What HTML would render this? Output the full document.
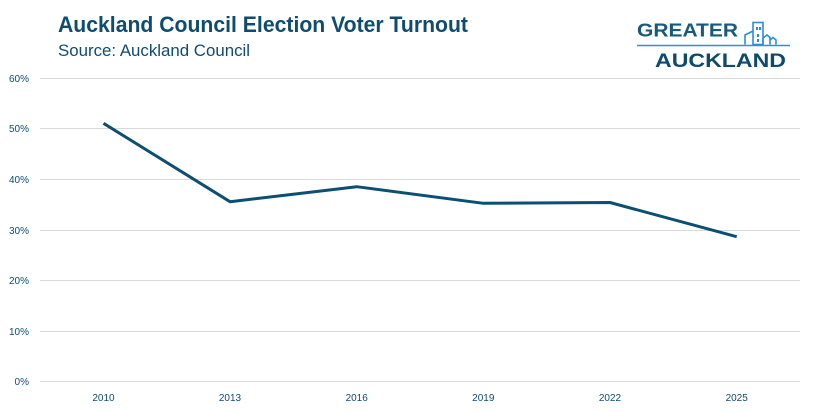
<!DOCTYPE html>
<html>
<head>
<meta charset="utf-8">
<style>
html,body{margin:0;padding:0;background:#fff;}
svg{display:block;}
text{font-family:"Liberation Sans",sans-serif;}
</style>
</head>
<body>
<svg width="815" height="413" viewBox="0 0 815 413" xmlns="http://www.w3.org/2000/svg">
<rect width="815" height="413" fill="#fff"/>
<!-- Title -->
<text x="58" y="32" font-size="22" font-weight="bold" fill="#0e4d70" textLength="410" lengthAdjust="spacingAndGlyphs">Auckland Council Election Voter Turnout</text>
<text x="58" y="56" font-size="17" fill="#0e4d70" textLength="192" lengthAdjust="spacingAndGlyphs">Source: Auckland Council</text>

<!-- Logo -->
<text x="637" y="36.5" font-size="18" font-weight="bold" fill="#165a7e" textLength="101" lengthAdjust="spacingAndGlyphs">GREATER</text>
<line x1="637" y1="45.5" x2="790" y2="45.5" stroke="#2a93d8" stroke-width="1.5"/>
<g fill="none" stroke="#2a8fd6" stroke-width="1.6">
<rect x="753" y="22.5" width="10" height="22"/>
<polyline points="745,44.5 745,35 753,31"/>
<polyline points="763,44.5 763,38 767,35 770,37.5 770,44.5"/>
<polyline points="770,40 773,37.5 776,40 776,44.5"/>
</g>
<g fill="#2a8fd6">
<rect x="756" y="27" width="2" height="3"/>
<rect x="759" y="27" width="2" height="3"/>
<rect x="757" y="34" width="2" height="3"/>
<rect x="757" y="39" width="2" height="3"/>
</g>
<text x="655" y="67" font-size="19" font-weight="bold" fill="#0d4a6b" textLength="131" lengthAdjust="spacingAndGlyphs">AUCKLAND</text>

<!-- Grid -->
<g stroke="#d9d9d9" stroke-width="1">
<line x1="40" y1="78.5" x2="800" y2="78.5"/>
<line x1="40" y1="128.5" x2="800" y2="128.5"/>
<line x1="40" y1="179.5" x2="800" y2="179.5"/>
<line x1="40" y1="230.5" x2="800" y2="230.5"/>
<line x1="40" y1="280.5" x2="800" y2="280.5"/>
<line x1="40" y1="331.5" x2="800" y2="331.5"/>
<line x1="40" y1="381.5" x2="800" y2="381.5"/>
</g>

<!-- Y labels -->
<g font-size="10" fill="#0e4d70" text-anchor="end">
<text x="29" y="82">60%</text>
<text x="29" y="132">50%</text>
<text x="29" y="183">40%</text>
<text x="29" y="234">30%</text>
<text x="29" y="284">20%</text>
<text x="29" y="335">10%</text>
<text x="29" y="385">0%</text>
</g>

<!-- X labels -->
<g font-size="10" fill="#0e4d70" text-anchor="middle">
<text x="103.5" y="401">2010</text>
<text x="230" y="401">2013</text>
<text x="356.7" y="401">2016</text>
<text x="483.3" y="401">2019</text>
<text x="610" y="401">2022</text>
<text x="736.7" y="401">2025</text>
</g>

<!-- Series -->
<polyline points="103.5,123.3 230,201.7 356.7,186.7 483.3,203.3 610,202.5 736.7,236.7" fill="none" stroke="#0b4f71" stroke-width="3" stroke-linejoin="round"/>
</svg>
</body>
</html>
